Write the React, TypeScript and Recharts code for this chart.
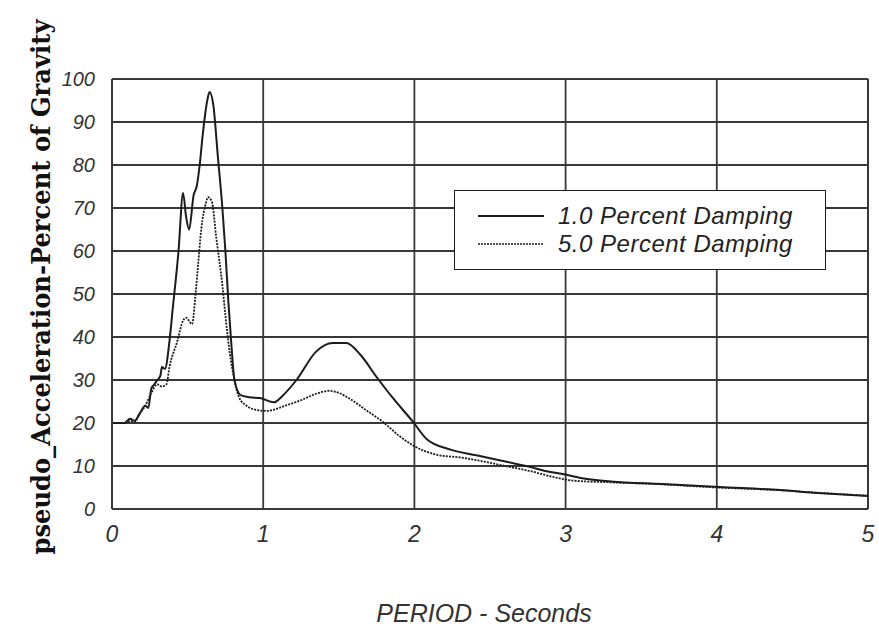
import React from 'react';
import {
  LineChart, Line, XAxis, YAxis, CartesianGrid, Legend, ReferenceLine,
} from 'recharts';

if (typeof document !== 'undefined') document.body.style.margin = '0';

// period (s) / pseudo acceleration (% g)
const PERIOD_1PCT = [
  0, 0.08, 0.12, 0.15, 0.18, 0.22, 0.24, 0.26, 0.28, 0.3, 0.32, 0.33, 0.35, 0.38, 0.4, 0.44,
  0.47, 0.49, 0.51, 0.54, 0.56, 0.58, 0.6, 0.63, 0.645, 0.67, 0.7, 0.73, 0.75, 0.77, 0.79,
  0.81, 0.85, 0.91, 0.98, 1.07, 1.13, 1.22, 1.35, 1.46, 1.55, 1.64, 1.75, 1.86, 1.99, 2.08,
  2.24, 2.41, 2.57, 2.76, 2.9, 3.0, 3.1, 3.3, 3.64, 4.02, 4.42, 4.64, 5.0,
];
const ACCEL_1PCT = [
  20, 20, 21, 20.5, 22, 24, 23.5, 28, 29, 30, 31, 33, 32.6, 39, 46, 60,
  73.5, 68, 65, 73, 75, 80, 87, 95, 97, 94, 82, 70, 60, 48, 38,
  30, 26.5, 26, 25.8, 24.8, 26.4, 30, 36.6, 38.6, 38.6, 36, 30.7, 25.7, 20.3, 16.3,
  13.8, 12.5, 11.3, 9.8, 8.6, 8.0, 7.2, 6.4, 5.8, 5.1, 4.4, 3.8, 3.0,
];

const PERIOD_5PCT = [
  0, 0.08, 0.12, 0.15, 0.18, 0.22, 0.26, 0.3, 0.33, 0.36, 0.38, 0.43, 0.47, 0.49, 0.53,
  0.55, 0.57, 0.59, 0.62, 0.635, 0.66, 0.69, 0.73, 0.75, 0.78, 0.81, 0.84, 0.89, 0.96,
  1.02, 1.16, 1.25, 1.35, 1.44, 1.5, 1.57, 1.68, 1.79, 1.9, 1.99, 2.15, 2.3, 2.45, 2.6,
  2.78, 2.9, 3.05, 3.3, 3.6, 4.0, 4.4, 4.7, 5.0,
];
const ACCEL_5PCT = [
  20, 20, 20.5, 20.3, 22, 24, 27, 29, 28.5, 29, 33, 38.8, 43.8, 44.5, 43,
  49, 57, 65, 71, 72.5, 71.5, 63, 52, 45, 36, 30, 26, 24, 23,
  22.8, 24.2, 25.3, 26.8, 27.5, 27, 25.7, 23, 20.3, 17, 14.8, 12.6, 12, 11.1, 10,
  8.7, 7.6, 6.6, 6.2, 5.8, 5.0, 4.4, 3.7, 3.1,
];

const X_TICKS = [0, 1, 2, 3, 4, 5];
const Y_TICKS = [0, 10, 20, 30, 40, 50, 60, 70, 80, 90, 100];

const SERIES_NAMES = ['1.0 Percent Damping', '5.0 Percent Damping'];

const data1 = PERIOD_1PCT.map((t, i) => ({ t, a: ACCEL_1PCT[i] }));
const data5 = PERIOD_5PCT.map((t, i) => ({ t, a: ACCEL_5PCT[i] }));

const GRID = '#383838';
const INK = '#1c1c1c';
const tickFont = { fontFamily: 'Liberation Sans, Arial, sans-serif', fontStyle: 'italic', fill: '#333' };

const LegendBox = () => (
  <div
    style={{
      width: 372, height: 80, boxSizing: 'border-box', border: `1.5px solid ${INK}`,
      background: '#fff', position: 'relative', fontFamily: 'Liberation Sans, Arial, sans-serif',
      fontStyle: 'italic', fontSize: 24, lineHeight: '24px', letterSpacing: 0.5, color: '#222',
    }}
  >
    {SERIES_NAMES.map((name, i) => (
      <div key={name} style={{ position: 'absolute', left: 23, top: 13 + i * 28, height: 24, display: 'flex', alignItems: 'center' }}>
        <svg width={68} height={6} style={{ marginRight: 12 }}>
          <line x1={0} x2={66} y1={3} y2={3} stroke={INK} strokeWidth={i === 0 ? 1.8 : 1.5}
            strokeDasharray={i === 0 ? undefined : '2 1'} />
        </svg>
        <span style={{ whiteSpace: 'nowrap' }}>{name}</span>
      </div>
    ))}
  </div>
);

const YTitle = () => (
  <text
    x={50} y={287} transform="rotate(-90 50 287)" textAnchor="middle"
    fontFamily="DejaVu Serif Condensed, DejaVu Serif, serif" fontWeight="bold" fontSize={26}
    fill="#111" textLength={535} lengthAdjust="spacingAndGlyphs"
  >
    pseudo_Acceleration-Percent of Gravity
  </text>
);

const XTitle = () => (
  <text
    x={484} y={622} textAnchor="middle" fontFamily="Liberation Sans, Arial, sans-serif"
    fontStyle="italic" fontSize={25} fill="#333"
  >
    PERIOD - Seconds
  </text>
);

export default function App() {
  return (
    <LineChart width={879} height={630} margin={{ top: 79, right: 11, bottom: 91, left: 0 }}>
      <CartesianGrid stroke={GRID} strokeWidth={1.8} />
      <XAxis
        type="number" dataKey="t" domain={[0, 5]} ticks={X_TICKS} allowDataOverflow
        tickLine={false} tickSize={0} tickMargin={17} axisLine={{ stroke: GRID, strokeWidth: 2 }}
        tick={{ ...tickFont, fontSize: 23 }}
        label={{ content: () => <XTitle /> }}
      />
      <YAxis
        type="number" domain={[0, 100]} ticks={Y_TICKS} width={112} allowDataOverflow
        tickLine={false} tickSize={0} tickMargin={17} axisLine={{ stroke: GRID, strokeWidth: 2 }}
        tick={{ ...tickFont, fontSize: 20 }}
        label={{ content: () => <YTitle /> }}
      />
      <ReferenceLine x={5} stroke={GRID} strokeWidth={2} />
      <ReferenceLine y={100} stroke={GRID} strokeWidth={2} />
      <Line
        data={data1} dataKey="a" name={SERIES_NAMES[0]} type="monotone" stroke={INK}
        strokeWidth={2} dot={false} isAnimationActive={false}
      />
      <Line
        data={data5} dataKey="a" name={SERIES_NAMES[1]} type="monotone" stroke={INK}
        strokeWidth={1.8} strokeDasharray="2 1.2" dot={false} isAnimationActive={false}
      />
      <Legend
        layout="vertical" verticalAlign="middle" align="center" width={372}
        wrapperStyle={{ left: 454, top: 190, width: 372 }}
        content={() => <LegendBox />}
      />
    </LineChart>
  );
}
